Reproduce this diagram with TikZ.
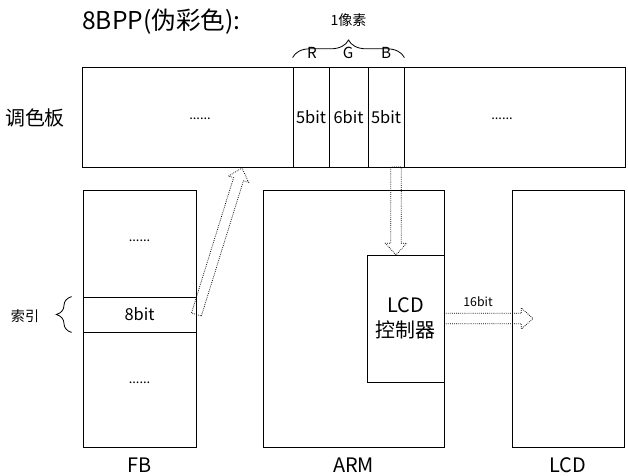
\documentclass[tikz,border=0pt]{standalone}
\usepackage{fontspec}
\setmainfont{Noto Sans CJK SC}
\usetikzlibrary{calc,decorations.pathreplacing}

\tikzset{
  box/.style={draw, line width=0.7pt, inner sep=0pt},
  hollow/.style={densely dotted, line width=0.65pt},
  lbl/.style={font=\fontsize{17}{21}\selectfont},
  bitlbl/.style={font=\fontsize{14}{16}\selectfont},
  small/.style={font=\fontsize{12}{14}\selectfont},
  rgb/.style={font=\fontsize{13}{15}\selectfont},
  dots/.style={font=\fontsize{11}{12}\selectfont},
  curly/.style={decorate, line width=0.7pt}
}

% hollow block arrow drawn with a dotted outline
\newcommand{\hollowarrow}[2]{%
  \draw[hollow] let \p1=(#1), \p2=(#2),
      \n1={atan2(\y2-\y1,\x2-\x1)}, \n2={veclen(\x2-\x1,\y2-\y1)} in
    [shift={(\p1)}, rotate=\n1]
    (0pt,-4.4pt) -- ({\n2-10pt},-4.4pt) -- ({\n2-10pt},-9pt) -- ({\n2+0pt},0pt)
    -- ({\n2-10pt},9pt) -- ({\n2-10pt},4.4pt) -- (0pt,4.4pt) -- cycle;}

\begin{document}
\begin{tikzpicture}[x=0.03cm, y=-0.03cm]
  \useasboundingbox (0,0) rectangle (628,475);

  % title
  \node[anchor=west, font=\fontsize{21}{24}\selectfont, inner sep=0pt] (title) at (82,22) {8BPP(伪彩色):};

  % palette
  \node[box, minimum width=16.29cm, minimum height=3cm] (pal) at (353.5,117) {};
  \node[lbl] (palname) at (35,118) {调色板};
  \node[dots] (paldotsL) at (200,119) {......};
  \node[dots] (paldotsR) at (502,119) {......};
  \node[box, bitlbl, minimum width=1.08cm, minimum height=3cm] (cR) at (311,117) {5bit};
  \node[box, bitlbl, minimum width=1.17cm, minimum height=3cm] (cG) at (348.5,117) {6bit};
  \node[box, bitlbl, minimum width=1.08cm, minimum height=3cm] (cB) at (386,117) {5bit};

  % one pixel
  \draw[curly, decoration={brace, amplitude=15pt}]
    ($(cR.north west)+(0,-9)$) -- ($(cB.north east)+(0,-9)$);
  \node[small] (pix) at (348.5,20) {1像素};
  \node[rgb] (rR) at (312,53) {R};
  \node[rgb] (rG) at (348,53) {G};
  \node[rgb] (rB) at (386,53) {B};

  % frame buffer
  \node[box, minimum width=3.39cm, minimum height=7.71cm] (fb) at (139.5,318.5) {};
  \node[box, bitlbl, minimum width=3.39cm, minimum height=1.05cm] (idx) at (139.5,314.5) {8bit};
  \node[dots] (fbdotsT) at (139.5,241) {......};
  \node[dots] (fbdotsB) at (139.5,383) {......};
  \node[lbl] (fbname) at (139.5,465) {FB};
  \draw[curly, decoration={brace, amplitude=13pt}]
    ($(idx.south west)+(-11,0)$) -- ($(idx.north west)+(-11,0)$);
  \node[small] (idxname) at (25,316) {索引};

  % ARM with LCD controller
  \node[box, minimum width=5.43cm, minimum height=7.71cm] (arm) at (353.5,318.5) {};
  \node[box, lbl, align=center, minimum width=2.31cm, minimum height=3.81cm] (ctrl) at (405.5,318.5) {LCD\\控制器};
  \node[lbl] (armname) at (353.5,465) {ARM};

  % LCD
  \node[box, minimum width=3.36cm, minimum height=7.71cm] (lcd) at (568,318.5) {};
  \node[lbl] (lcdname) at (568,465) {LCD};

  % data paths
  \coordinate (palin) at (242,168);
  \coordinate (palout) at (396,167);
  \coordinate (ctrlin) at (396,255);
  \coordinate (lcdin) at (533,318.5);
  \hollowarrow{idx.east}{palin}
  \hollowarrow{palout}{ctrlin}
  \hollowarrow{ctrl.east}{lcdin}
  \node[font=\fontsize{10.5}{12}\selectfont] (bus) at (478,302) {16bit};
\end{tikzpicture}
\end{document}
